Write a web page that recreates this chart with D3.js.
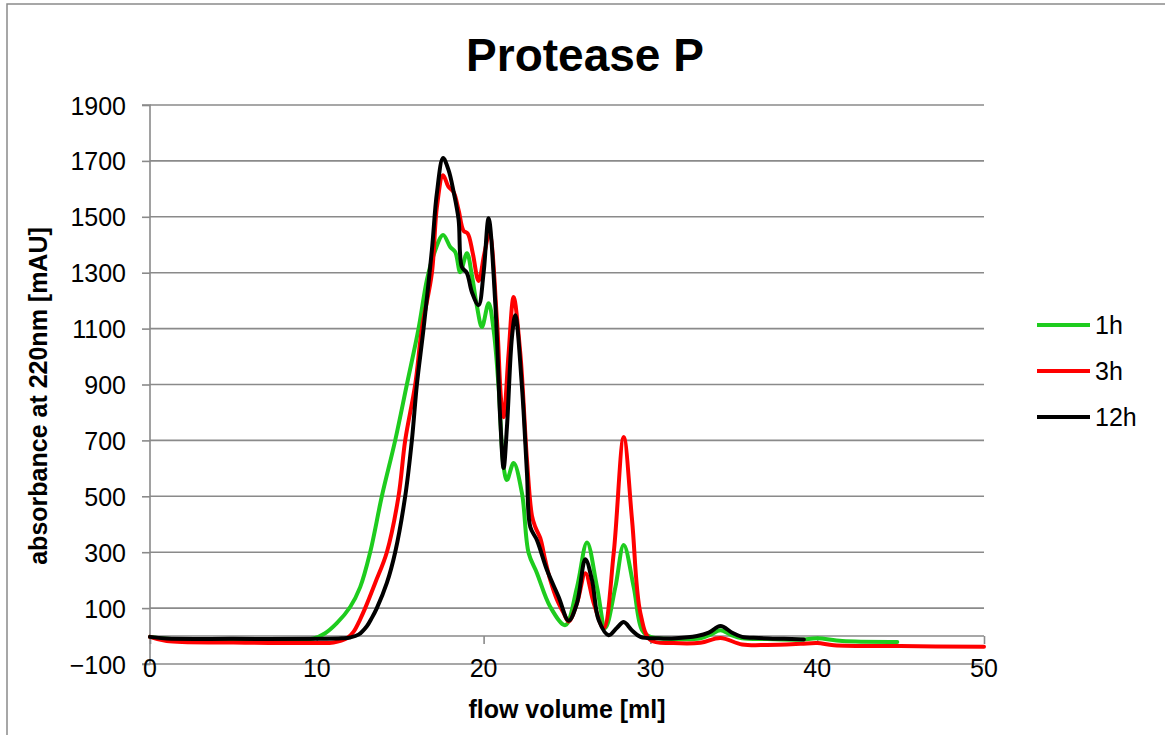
<!DOCTYPE html>
<html>
<head>
<meta charset="utf-8">
<script src="https://cdn.jsdelivr.net/npm/d3@7"></script>
<style>
  html, body { margin: 0; padding: 0; background: #fff; }
  svg { display: block; font-family: "Liberation Sans", Arial, sans-serif; }
</style>
</head>
<body>
<svg id="chart" width="1165" height="735"></svg>
<script>
// Chromatogram traces: flow volume [ml] and absorbance [mAU]
const seriesNames = ["1h", "3h", "12h"];
const seriesColors = ["#1ecc1e", "#ff0000", "#000000"];

const x1h = [0, 1, 5, 9, 9.8, 10.5, 11.2, 12.0, 12.6, 13.2, 13.9, 14.7, 15.4, 16.1, 16.6, 17.0, 17.57, 18.0, 18.3, 18.6, 19.0, 19.3, 19.6, 19.9, 20.3, 20.6, 20.9, 21.2, 21.4, 21.8, 22.3, 22.7, 23.2, 24.0, 24.9, 25.6, 26.2, 26.8, 27.3, 27.9, 28.4, 29.0, 29.5, 30.0, 31.5, 33.0, 33.6, 34.2, 34.8, 35.5, 37.0, 39.0, 40.0, 41.5, 44.8];
const y1h = [-3, -10, -11, -11, -9, 10, 46, 104, 175, 300, 500, 700, 900, 1100, 1274, 1363, 1435, 1392, 1374, 1302, 1370, 1290, 1180, 1106, 1191, 1095, 891, 605, 558, 619, 511, 297, 225, 104, 39, 175, 335, 175, 29, 175, 326, 175, 21, -3, -11, -8, 5, 21, 5, -8, -11, -13, -8, -18, -21];

const x3h = [0, 1, 5, 10, 11.0, 11.8, 12.2, 12.6, 12.9, 13.5, 14.2, 14.9, 15.3, 15.9, 16.3, 16.9, 17.2, 17.57, 17.9, 18.2, 18.5, 18.8, 19.05, 19.35, 19.7, 20.05, 20.35, 20.8, 21.05, 21.2, 21.5, 21.8, 22.2, 22.6, 22.9, 23.1, 23.4, 23.7, 24.0, 24.4, 24.8, 25.1, 25.6, 26.1, 26.6, 27.2, 27.8, 28.4, 28.9, 29.4, 30.0, 31.4, 33.0, 34.2, 35.5, 37.0, 39.0, 40.0, 41.0, 45.0, 50.0];
const y3h = [-3, -18, -23, -25, -23, -8, 15, 60, 100, 190, 300, 500, 700, 900, 1100, 1299, 1535, 1649, 1607, 1589, 1524, 1450, 1440, 1370, 1270, 1370, 1440, 1130, 844, 783, 1012, 1213, 1012, 630, 430, 390, 350, 270, 200, 130, 82, 52, 118, 225, 118, 28, 297, 712, 415, 82, -14, -25, -24, -7, -30, -32, -28, -25, -33, -36, -38];

const x12h = [0, 1, 5, 10, 11.5, 12.0, 12.5, 13.0, 13.3, 13.6, 14.2, 14.7, 15.3, 15.7, 16.0, 16.4, 16.9, 17.2, 17.57, 17.9, 18.2, 18.5, 18.7, 19.0, 19.3, 19.7, 20.0, 20.3, 20.7, 21.0, 21.2, 21.4, 21.7, 21.9, 22.3, 22.6, 22.8, 23.2, 23.8, 24.5, 25.1, 25.6, 26.1, 26.5, 26.9, 27.5, 28.0, 28.4, 28.9, 29.4, 30.5, 31.5, 32.8, 33.5, 34.2, 34.9, 35.5, 36.5, 38.0, 39.2];
const y12h = [-3, -9, -10, -10, -8, -5, 5, 35, 65, 100, 190, 300, 500, 700, 900, 1100, 1381, 1585, 1710, 1667, 1590, 1490, 1320, 1299, 1230, 1184, 1300, 1495, 1191, 773, 601, 748, 1070, 1148, 891, 583, 390, 343, 236, 140, 55, 118, 275, 200, 57, 3, 30, 50, 20, -3, -8, -8, 0, 12, 36, 12, -3, -7, -10, -12];

const xTicks = [0, 10, 20, 30, 40, 50];
const yTicks = [-100, 100, 300, 500, 700, 900, 1100, 1300, 1500, 1700, 1900];

const seriesX = [x1h, x3h, x12h];
const seriesY = [y1h, y3h, y12h];

const svg = d3.select("#chart");
const W = 1165, H = 735;
const plot = { left: 150, right: 984, top: 105, bottom: 664 };
const grey = "#8a8a8a";

// outer chart frame
svg.append("rect")
  .attr("x", 7).attr("y", 4).attr("width", W + 10).attr("height", H + 10)
  .attr("fill", "#fff").attr("stroke", grey).attr("stroke-width", 1.5);

const x = d3.scaleLinear().domain([0, 50]).range([plot.left, plot.right]);
const y = d3.scaleLinear().domain([-100, 1900]).range([plot.bottom, plot.top]);

// horizontal gridlines
svg.append("g").selectAll("line").data(yTicks).join("line")
  .attr("x1", plot.left).attr("x2", plot.right)
  .attr("y1", d => y(d)).attr("y2", d => y(d))
  .attr("stroke", grey).attr("stroke-width", 1.6);

// y axis with outward ticks
const yAxis = d3.axisLeft(y).tickValues(yTicks).tickSize(8).tickPadding(16)
  .tickFormat(d3.format("d"));
const gy = svg.append("g").attr("transform", `translate(${plot.left},0)`).call(yAxis);
gy.select(".domain").attr("stroke", grey).attr("stroke-width", 1.6)
  .attr("d", `M-8,${y(1900)}H0V${y(-100)}H-8`);
gy.selectAll(".tick line").attr("stroke", grey).attr("stroke-width", 1.6);
gy.selectAll(".tick text")
  .attr("font-size", 25).attr("fill", "#000")
  .attr("font-family", "Liberation Sans, Arial, sans-serif")
  .attr("dy", "0.36em");

// x axis line crosses at zero; labels sit at the bottom of the plot
const xAxis = d3.axisBottom(x).tickValues(xTicks).tickSize(8).tickFormat("");
const gx = svg.append("g").attr("transform", `translate(0,${y(0)})`).call(xAxis);
gx.select(".domain").attr("stroke", grey).attr("stroke-width", 1.6)
  .attr("d", `M${plot.left},0H${plot.right}`);
gx.selectAll(".tick line").attr("stroke", grey).attr("stroke-width", 1.6);

svg.append("g").selectAll("text").data(xTicks).join("text")
  .attr("x", d => x(d)).attr("y", plot.bottom + 13)
  .attr("text-anchor", "middle").attr("font-size", 25).attr("fill", "#000")
  .text(d => d);

// traces
const line = d3.line()
  .x(d => x(d[0])).y(d => y(d[1]))
  .curve(d3.curveCatmullRom.alpha(0.5));

const order = [0, 1, 2];
svg.append("g").selectAll("path").data(order).join("path")
  .attr("d", i => line(seriesX[i].map((v, k) => [v, seriesY[i][k]])))
  .attr("fill", "none")
  .attr("stroke", i => seriesColors[i])
  .attr("stroke-width", 4)
  .attr("stroke-linejoin", "round")
  .attr("stroke-linecap", "round");

// legend
const lg = svg.append("g");
seriesNames.forEach((name, i) => {
  const ly = 325 + i * 46;
  lg.append("line").attr("x1", 1037).attr("x2", 1090).attr("y1", ly).attr("y2", ly)
    .attr("stroke", seriesColors[i]).attr("stroke-width", 4);
  lg.append("text").attr("x", 1095).attr("y", ly + 9)
    .attr("font-size", 25).attr("fill", "#000").text(name);
});

// titles
svg.append("text").attr("x", 585).attr("y", 71)
  .attr("text-anchor", "middle").attr("font-size", 46).attr("font-weight", "bold")
  .text("Protease P");

svg.append("text").attr("x", 567).attr("y", 718)
  .attr("text-anchor", "middle").attr("font-size", 25).attr("font-weight", "bold")
  .text("flow volume [ml]");

svg.append("text")
  .attr("transform", `translate(47,396) rotate(-90)`)
  .attr("text-anchor", "middle").attr("font-size", 25).attr("font-weight", "bold")
  .text("absorbance at 220nm [mAU]");
</script>
</body>
</html>
